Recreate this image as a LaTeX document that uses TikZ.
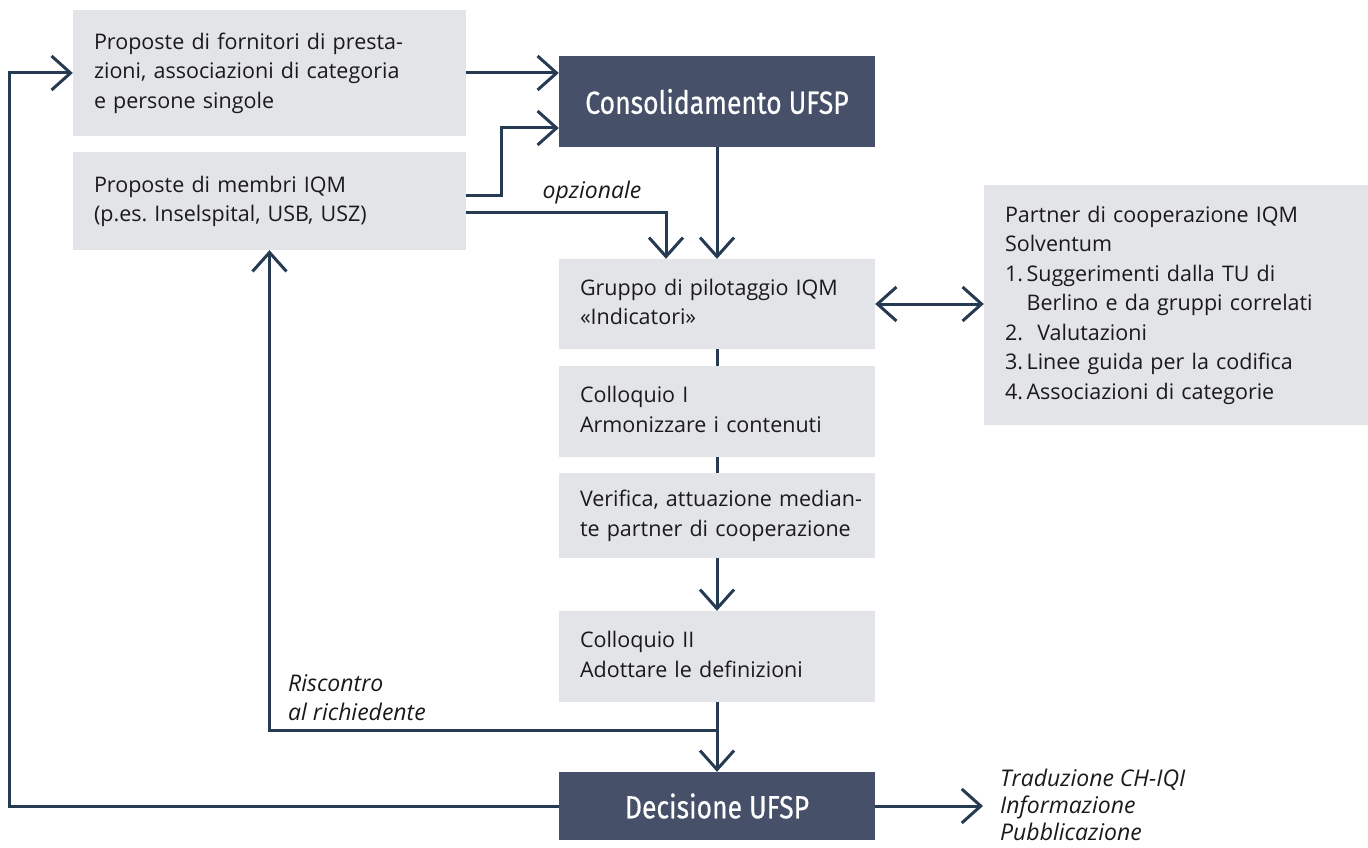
\documentclass[tikz,border=0pt]{standalone}
\usepackage{fontspec}
\setmainfont{Open Sans}
\newfontfamily\headfont{Fira Sans}[FakeStretch=0.83,FakeBold=0.4]
\usepackage{tikz}
\usetikzlibrary{arrows.meta,positioning}
\frenchspacing
\definecolor{boxgray}{HTML}{E3E4E8}
\definecolor{boxdark}{HTML}{465068}
\definecolor{linenavy}{HTML}{263A52}
\definecolor{textblack}{HTML}{1A1A1A}
\newcommand\bodyfont{\fontsize{21.5}{29.5}\selectfont}
\newcommand\notefont{\fontsize{23}{28.5}\selectfont\itshape}
\newcommand\outfont{\fontsize{23}{27}\selectfont\itshape}
\newcommand\boxlines[1]{\begin{tabular}{@{}l@{}}#1\end{tabular}}
\tikzset{>={Straight Barb[length=19pt,width=34pt]}}
\tikzset{
    box/.style={fill=boxgray,text=textblack,inner xsep=21pt,inner ysep=0pt,align=left,font=\bodyfont},
    midbox/.style={box,text width=274pt},
    darkbox/.style={fill=boxdark,text=white,minimum width=316pt,inner sep=0pt,font=\headfont\fontsize{32}{38}\selectfont},
    conn/.style={draw=linenavy,line width=3pt},
    note/.style={text=textblack,align=left,inner sep=0pt,font=\notefont},
}

\begin{document}
\begin{tikzpicture}[x=1pt,y=-1pt]
        \useasboundingbox (0,0) rectangle (1368,848);
        \node[box,text width=351pt,minimum height=126pt] (propA) at (269.5,73) {\boxlines{Proposte di fornitori di presta-\\zioni, associazioni di categoria\\e persone singole}};
        \node[box,text width=351pt,minimum height=98pt] (propB) at (269.5,201) {\boxlines{Proposte di membri IQM\\(p.es. Inselspital, USB, USZ)}};
        \node[darkbox,minimum height=91pt] (cons) at (717,101.5) {Consolidamento UFSP};
        \node[midbox,minimum height=90pt] (grp) at (717,304) {\boxlines{Gruppo di pilotaggio IQM\\«Indicatori»}};
        \node[midbox,minimum height=91pt] (colA) at (717,411.5) {\boxlines{Colloquio I\\Armonizzare i contenuti}};
        \node[midbox,minimum height=85pt] (verif) at (717,515.5) {\boxlines{Verifica, attuazione median-\\te partner di cooperazione}};
        \node[midbox,minimum height=91pt] (colB) at (717,656.5) {\boxlines{Colloquio II\\Adottare le definizioni}};
        \node[darkbox,minimum height=68pt] (dec) at (717,806) {Decisione UFSP};
        \node[box,text width=342pt,minimum height=240pt] (sol) at (1176,305) {\boxlines{Partner di cooperazione IQM\\Solventum\\1.\,Suggerimenti dalla TU di\\\phantom{1.\,}Berlino e da gruppi correlati\\2.~~Valutazioni\\3.\,Linee guida per la codifica\\4.\,Associazioni di categorie}};

        \node[note] (opt) at (592,193) {opzionale};
        \node[note,anchor=west] (risc) at (288,697.5) {Riscontro\\al richiedente};
        \node[note,anchor=west,font=\outfont] (outp) at (1000,805) {Traduzione CH-IQI\\Informazione\\Pubblicazione};

        \coordinate (loopc) at (9,73);
        \coordinate (bcorner) at (501,128);
        \coordinate (fb) at (717,730);
        \coordinate (outc) at (983,806);

        \draw[conn,->] (dec.west) -| (loopc) -- (propA.west);
        \draw[conn,->] (propA.east) -- (propA.east -| cons.west);
        \draw[conn,->] ([yshift=6pt]propB.east) -| (bcorner) -- (bcorner -| cons.west);
        \draw[conn,->] ([yshift=-11pt]propB.east) -| ([xshift=-51pt]grp.north);
        \draw[conn,->] (cons.south) -- (grp.north);
        \draw[conn] (grp.south) -- (colA.north);
        \draw[conn] (colA.south) -- (verif.north);
        \draw[conn,->] (verif.south) -- (colB.north);
        \draw[conn,->] (colB.south) -- (dec.north);
        \draw[conn,->] (fb) -| (propB.south);
        \draw[conn,<->] (grp.east) -- (sol.west |- grp.east);
        \draw[conn,->] (dec.east) -- (outc);
\end{tikzpicture}
\end{document}
